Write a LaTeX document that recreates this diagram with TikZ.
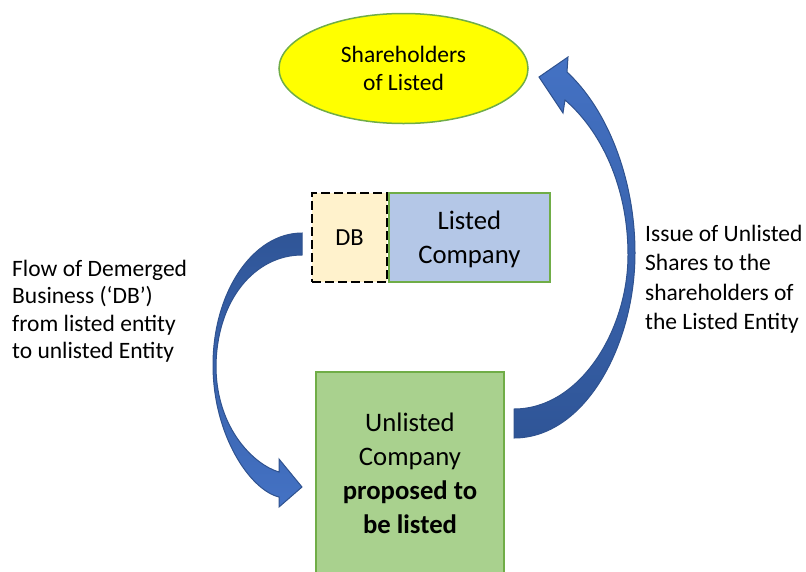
\documentclass[tikz,border=0pt]{standalone}
\usepackage{fontspec}
\setmainfont{Carlito}
\usetikzlibrary{shapes.geometric,positioning}
\definecolor{boxgreen}{HTML}{70AD47}
\definecolor{shareyellow}{HTML}{FFFF00}
\definecolor{dbfill}{HTML}{FFF2CC}
\definecolor{listedfill}{HTML}{B4C7E7}
\definecolor{unlistedfill}{HTML}{A9D18E}
\definecolor{arrowlight}{HTML}{4472C4}
\definecolor{arrowdark}{HTML}{2F5597}
\definecolor{arrowline}{HTML}{2F528F}
\tikzset{
  smalltext/.style={font=\fontsize{23.5}{28.5}\selectfont},
  bigtext/.style={font=\fontsize{26.7}{34}\selectfont},
  company/.style={draw=boxgreen, line width=1.5pt, align=center, inner sep=0pt},
  blockarrow/.style={draw=arrowline, line width=1pt}
}
\begin{document}
\begin{tikzpicture}[x=1pt, y=-1pt]
        \useasboundingbox (0,0) rectangle (806,571);
        \node (share) at (403.5,68.5) [ellipse, draw=boxgreen, fill=shareyellow, line width=1.5pt, minimum width=249pt, minimum height=110pt, inner sep=0pt, align=center, smalltext] {Shareholders\\of Listed};
        \node (db) at (349.5,237.5) [rectangle, draw=black, dash pattern=on 9pt off 4pt, line width=2.2pt, fill=dbfill, minimum width=75pt, minimum height=89pt, inner sep=0pt, font=\fontsize{24.5}{29}\selectfont] {DB};
        \node (listed) [right=0pt of db, company, fill=listedfill, minimum width=161pt, minimum height=89pt, text depth=0pt, bigtext] {Listed\\Company};
        \node (unlisted) at (410,473) [company, fill=unlistedfill, minimum width=188pt, minimum height=202pt, bigtext] {Unlisted\\Company\\\textbf{proposed to}\\\textbf{be listed}};
        \node (flowtext) at (12,311) [anchor=west, align=left, inner sep=0pt, font=\fontsize{23.5}{27.5}\selectfont] {Flow of Demerged\\Business (‘DB’)\\from listed entity\\to unlisted Entity};
        \node (issuetext) at (645,279) [anchor=west, align=left, inner sep=0pt, font=\fontsize{23.5}{29.5}\selectfont] {Issue of Unlisted\\Shares to the\\shareholders of\\the Listed Entity};
        \draw [blockarrow, top color=arrowdark, bottom color=arrowlight] (302,233) .. controls (253,233) and (213,292) .. (213,365)
          .. controls (213,435) and (250,490) .. (279,497) -- (279,507) -- (302,487) -- (279,459) -- (279,472)
          .. controls (255,465) and (217,430) .. (216,368) .. controls (216,300) and (255,255) .. (302,255) -- cycle;
        \draw [blockarrow, top color=arrowlight, bottom color=arrowdark] (514,438) .. controls (585,438) and (635,345) .. (635,253)
          .. controls (635,180) and (608,110) .. (567,72) -- (568,57) -- (539,77) -- (563,113) -- (565,100)
          .. controls (600,130) and (628,185) .. (628,255) .. controls (628,330) and (580,409) .. (514,409) -- cycle;
      \end{tikzpicture}
\end{document}
